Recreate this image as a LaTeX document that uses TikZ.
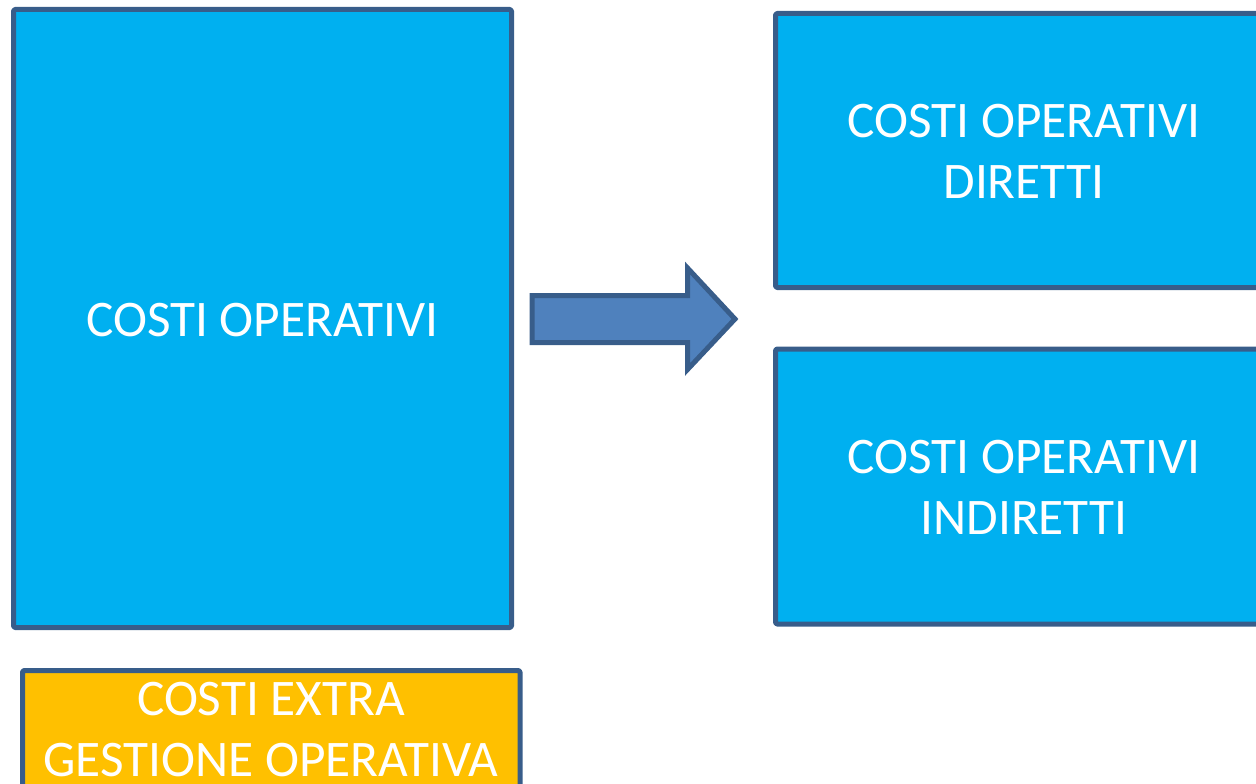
\documentclass[tikz,border=0pt]{standalone}
\usepackage{fontspec}
\setmainfont{Carlito}
\definecolor{boxblue}{HTML}{00B0F0}
\definecolor{boxorange}{HTML}{FFC000}
\definecolor{edgeblue}{HTML}{385D8A}
\definecolor{arrowblue}{HTML}{4F81BD}
\tikzset{
  panel/.style={draw=edgeblue, line width=5pt, rounded corners=1.5pt, line join=round},
  label/.style={text=white, align=center, font=\fontsize{51.3}{61}\selectfont, inner sep=0pt},
}
\begin{document}
\begin{tikzpicture}[x=1pt,y=-1pt]
\useasboundingbox (0,0) rectangle (1256,784);
\clip (0,0) rectangle (1256,784);
% boxes
\draw[panel, fill=boxblue] (13.5,9.5) rectangle (511.5,627.5);
\draw[panel, fill=boxblue] (775.5,13.5) rectangle (1275,287.5);
\draw[panel, fill=boxblue] (775.5,349) rectangle (1275,624);
\draw[panel, fill=boxorange] (22.5,670.5) rectangle (520,800);
% labels
\node[label] (ops) at (262.5,320) {COSTI OPERATIVI};
\node[label] (dir) at (1024,151) {COSTI OPERATIVI\\DIRETTI};
\node[label] (ind) at (1024,487) {COSTI OPERATIVI\\INDIRETTI};
\node[label] (extra) at (271,730) {COSTI EXTRA\\GESTIONE OPERATIVA};
% arrow
\draw[draw=edgeblue, fill=arrowblue, line width=5pt, line join=miter]
  (532,295.5) -- (687.5,295.5) -- (687.5,268) -- (735,319) -- (687.5,369.5)
  -- (687.5,342.5) -- (532,342.5) -- cycle;
\end{tikzpicture}
\end{document}
